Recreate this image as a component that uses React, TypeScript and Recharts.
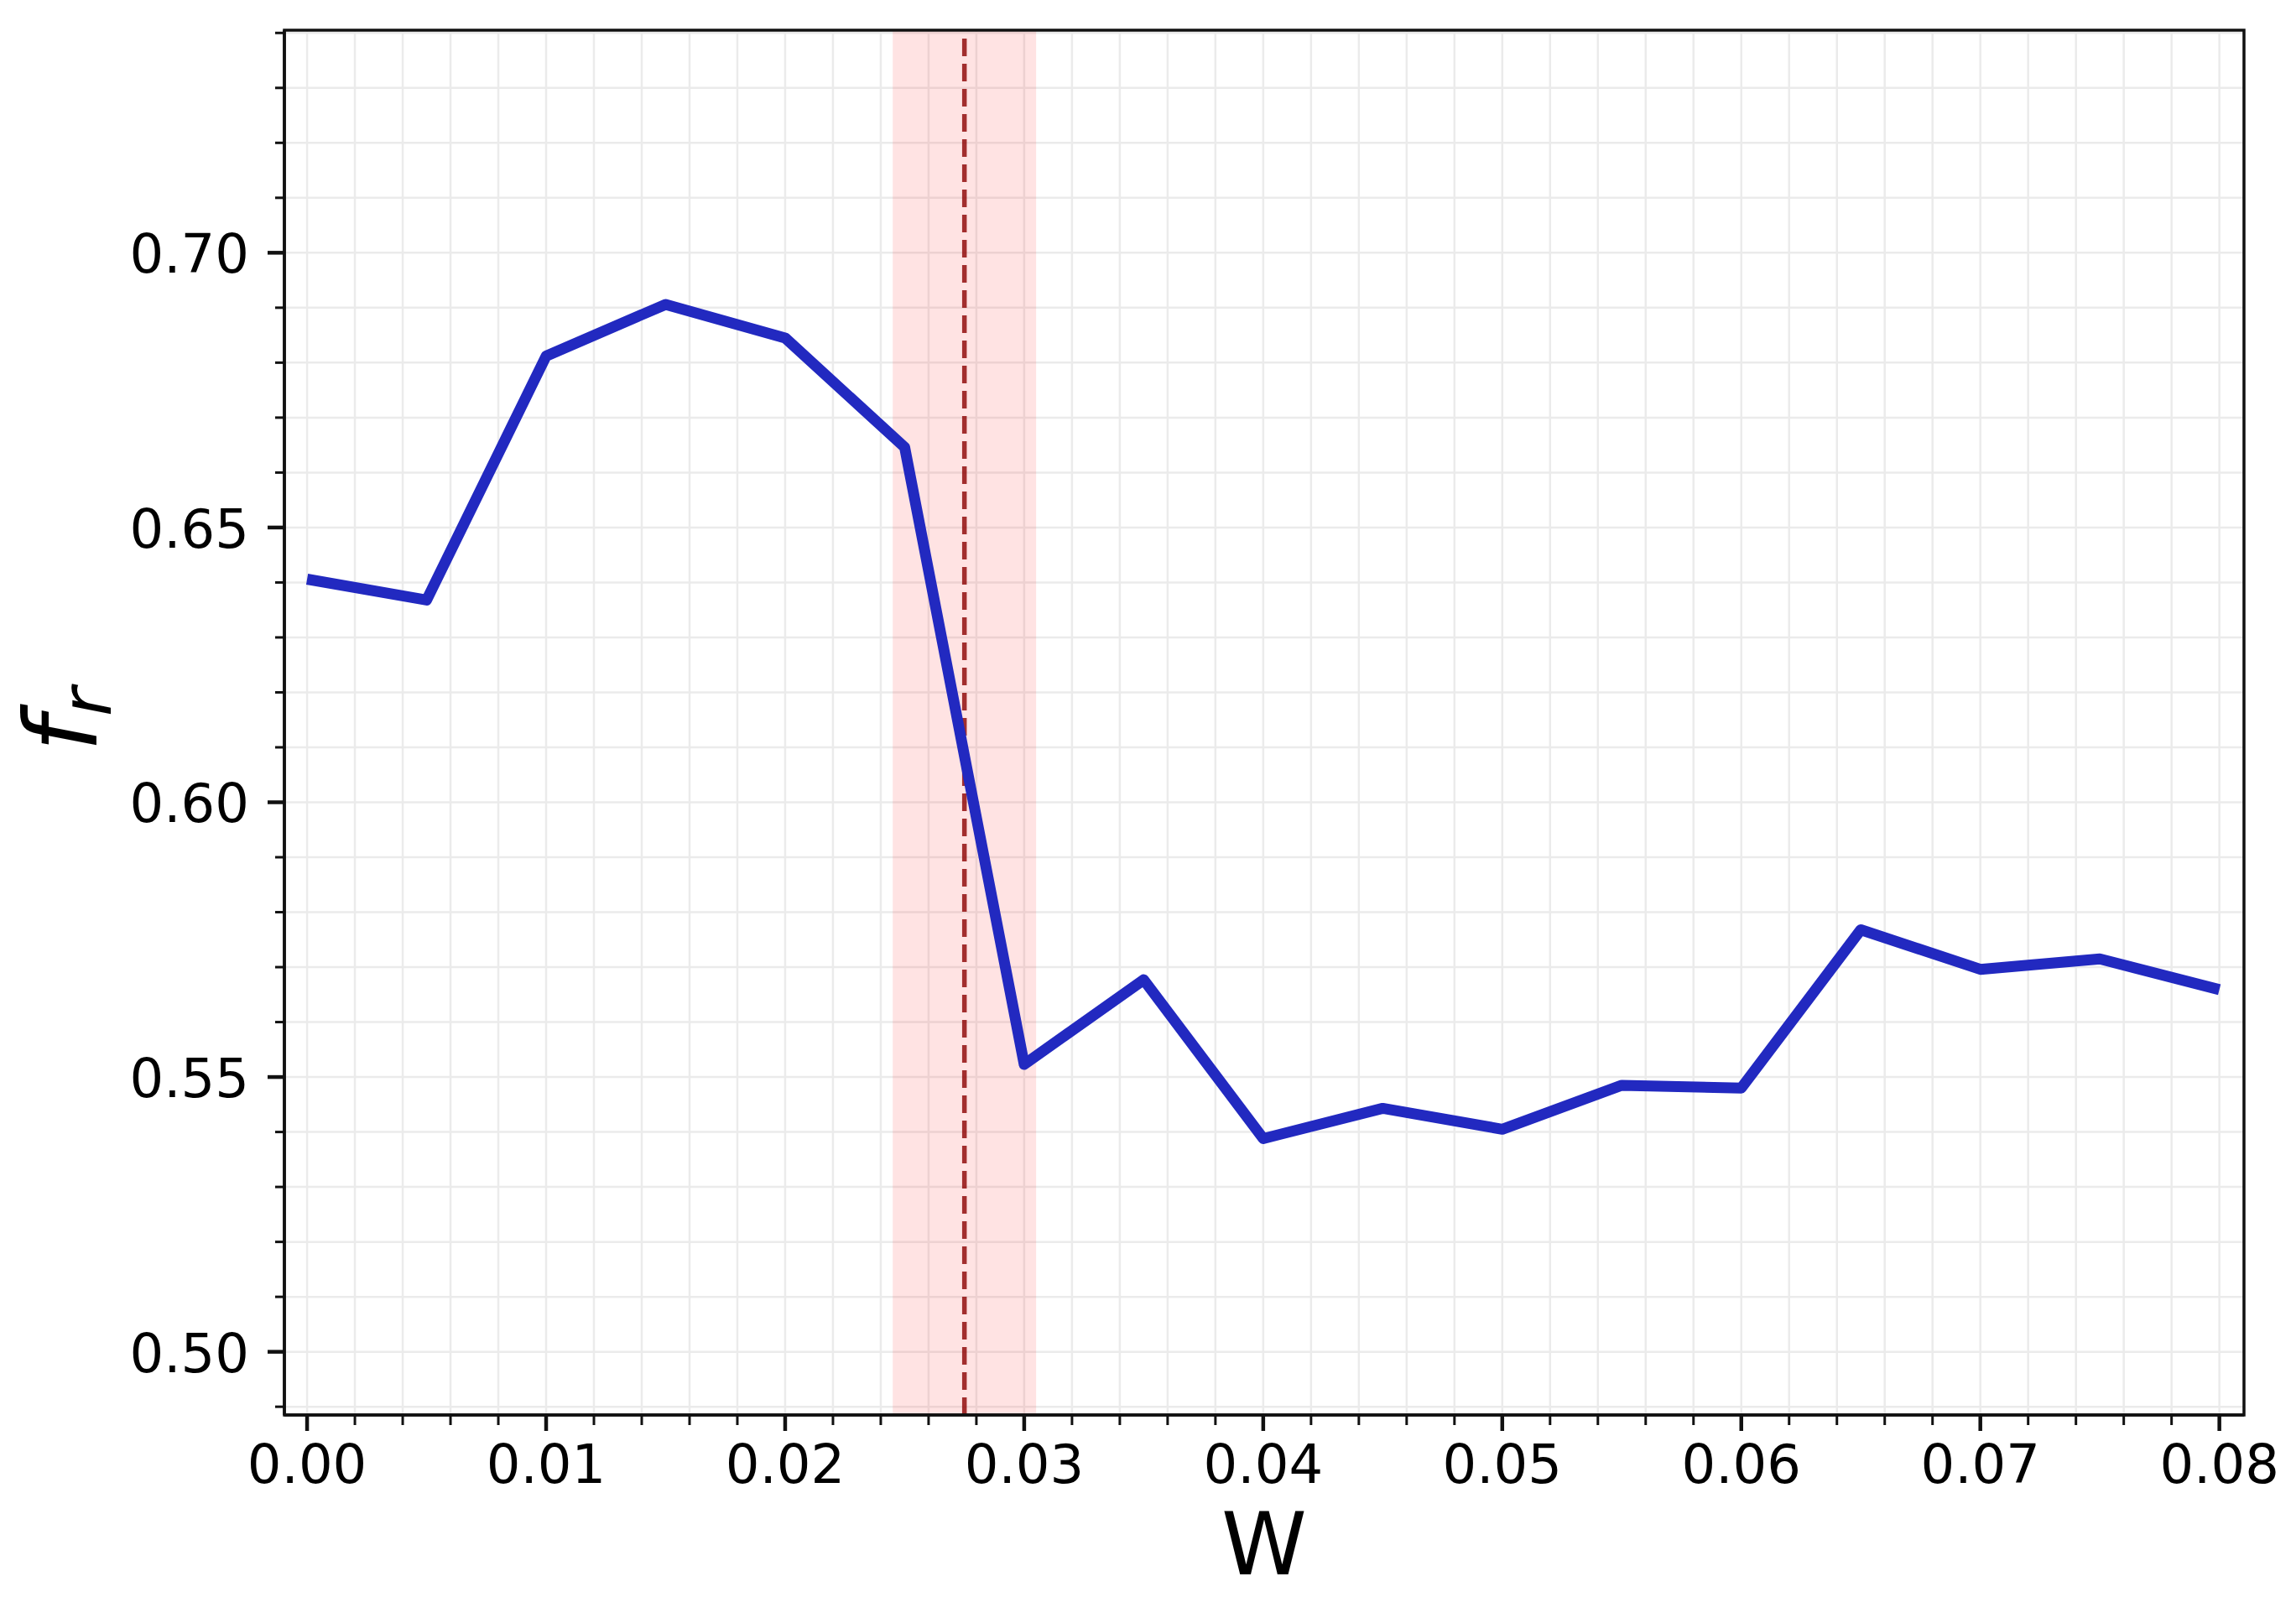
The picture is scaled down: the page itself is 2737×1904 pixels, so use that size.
import React from "react"
import { LineChart, Line, XAxis, YAxis, CartesianGrid, ReferenceArea, ReferenceLine } from "recharts"

// sweep of W and the measured f_r
const wValues = [0, 0.005, 0.01, 0.015, 0.02, 0.025, 0.03, 0.035, 0.04, 0.045, 0.05, 0.055, 0.06, 0.065, 0.07, 0.075, 0.08]
const frValues = [0.6406, 0.6368, 0.6812, 0.6906, 0.6845, 0.6646, 0.5523, 0.5677, 0.5388, 0.5443, 0.5405, 0.5485, 0.548, 0.5768, 0.5696, 0.5715, 0.5659]

// critical W and its band
const wCritical = 0.0275
const wBand = [0.0245, 0.0305]

const xMajor = [0, 0.01, 0.02, 0.03, 0.04, 0.05, 0.06, 0.07, 0.08]
const yMajor = [0.5, 0.55, 0.6, 0.65, 0.7]
const xTicks = Array.from({ length: 41 }, (_, i) => +(i * 0.002).toFixed(3))
const yTicks = Array.from({ length: 26 }, (_, i) => +(0.49 + i * 0.01).toFixed(2))

const xDomain: [number, number] = [-0.00095, 0.08103]
const yDomain: [number, number] = [0.4885, 0.7405]

const FONT = "DejaVu Sans"

const data = wValues.map((w, i) => ({ w, fr: frValues[i] }))

const isMajor = (v: number, list: number[]) => list.some((m) => Math.abs(m - v) < 1e-7)

const XTick = (props: any) => {
    const { x, y, payload } = props
    const major = isMajor(payload.value, xMajor)
    return (
        <g>
            <line x1={x} x2={x} y1={y} y2={y + (major ? 19 : 12)} stroke="#111" strokeWidth={major ? 4.5 : 3} />
            {major && (
                <text x={x} y={y + 81} textAnchor="middle" fontFamily={FONT} fontSize={64} fill="#000">
                    {payload.value.toFixed(2)}
                </text>
            )}
        </g>
    )
}

const YTick = (props: any) => {
    const { x, y, payload } = props
    const major = isMajor(payload.value, yMajor)
    return (
        <g>
            <line x1={x} x2={x - (major ? 20 : 11)} y1={y} y2={y} stroke="#111" strokeWidth={major ? 4.5 : 3} />
            {major && (
                <text x={x - 42} y={y + 24} textAnchor="end" fontFamily={FONT} fontSize={64} fill="#000">
                    {payload.value.toFixed(2)}
                </text>
            )}
        </g>
    )
}

export default function App() {
    return (
        <div style={{ position: "absolute", left: 0, top: 0, width: 2737, height: 1904, background: "#fff" }}>
            <LineChart width={2737} height={1904} data={data} margin={{ top: 36, right: 62, bottom: 0, left: 0 }}>
                <CartesianGrid stroke="#ebebeb" strokeWidth={2.5} />
                <XAxis
                    dataKey="w"
                    type="number"
                    domain={xDomain}
                    allowDataOverflow
                    ticks={xTicks}
                    interval={0}
                    height={217}
                    tickSize={0}
                    tickMargin={0}
                    tickLine={false}
                    tick={<XTick />}
                    axisLine={{ stroke: "#111", strokeWidth: 3.5 }}
                    label={{
                        content: (p: any) => (
                            <text x={p.viewBox.x + p.viewBox.width / 2} y={1877} textAnchor="middle" fontFamily={FONT} fontSize={103} fill="#000">
                                W
                            </text>
                        ),
                    }}
                />
                <YAxis
                    type="number"
                    domain={yDomain}
                    allowDataOverflow
                    ticks={yTicks}
                    interval={0}
                    width={339}
                    tickSize={0}
                    tickMargin={0}
                    tickLine={false}
                    tick={<YTick />}
                    axisLine={{ stroke: "#111", strokeWidth: 3.5 }}
                    label={{
                        content: () => (
                            <text transform="translate(115, 858) rotate(-90)" x={0} y={0} textAnchor="middle" fontFamily={FONT} fontSize={120} fontStyle="italic" fill="#000">
                                f<tspan fontSize={84} dy={17}>r</tspan>
                            </text>
                        ),
                    }}
                />
                <ReferenceArea x1={wBand[0]} x2={wBand[1]} fill="#ff0000" fillOpacity={0.11} stroke="none" />
                <ReferenceLine x={wCritical} stroke="#8b0000" strokeOpacity={0.8} strokeWidth={5.5} strokeDasharray="21 9" zIndex={300} />
                <Line
                    type="linear"
                    dataKey="fr"
                    stroke="#2229c0"
                    strokeWidth={13}
                    strokeLinejoin="round"
                    dot={false}
                    activeDot={false}
                    isAnimationActive={false}
                    zIndex={600}
                />
                <ReferenceArea x1={xDomain[0]} x2={xDomain[1]} y1={yDomain[0]} y2={yDomain[1]} fill="none" stroke="#111" strokeWidth={3.5} zIndex={700} />
            </LineChart>
        </div>
    )
}
